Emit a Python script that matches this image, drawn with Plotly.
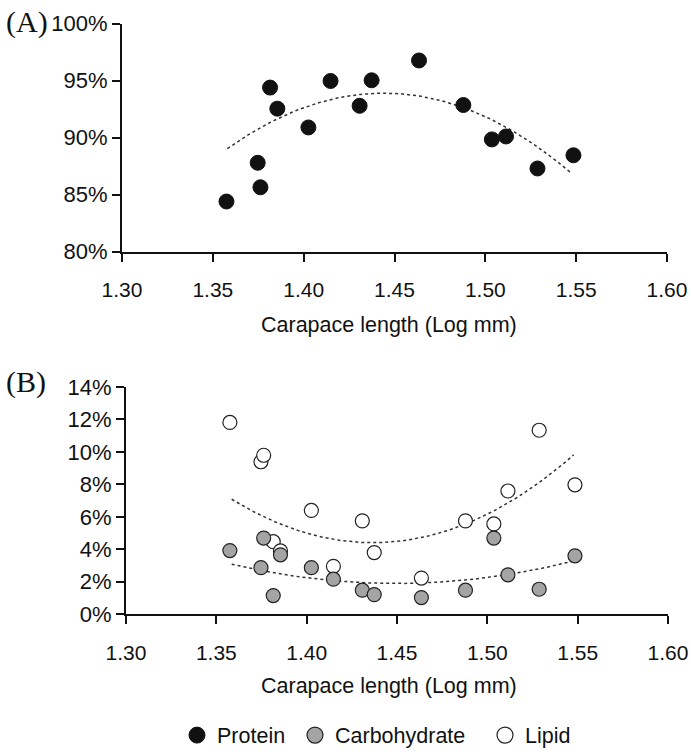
import numpy as np
import plotly.graph_objects as go

# ---- data ----
carapace_log_mm = [1.3575, 1.3747, 1.3762, 1.3815, 1.3855, 1.4026, 1.4148, 1.4308,
                   1.4374, 1.4635, 1.4879, 1.5036, 1.5114, 1.5287, 1.5485]
protein_pct = [84.4, 87.8, 85.65, 94.4, 92.55, 90.9, 94.98, 92.8,
               95.04, 96.78, 92.87, 89.85, 90.11, 87.3, 88.46]
carbohydrate_pct = [3.92, 2.87, 4.69, 1.15, 3.66, 2.87, 2.16, 1.48,
                    1.21, 1.03, 1.48, 4.69, 2.43, 1.54, 3.60]
lipid_pct = [11.81, 9.39, 9.79, 4.47, 3.90, 6.39, 2.95, 5.75,
             3.80, 2.23, 5.75, 5.56, 7.59, 11.33, 7.97]

# polynomial (order 2) trendlines, as read at start / middle / end
trend_x = [1.3580, 1.4450, 1.5475]
protein_trend = [89.04, 93.91, 86.87]
lipid_trend_x = [1.3585, 1.4398, 1.5478]
lipid_trend = [7.08, 4.41, 9.81]
carb_trend_x = [1.3585, 1.4446, 1.5478]
carb_trend = [3.08, 1.90, 3.28]

x_ticks = [1.30, 1.35, 1.40, 1.45, 1.50, 1.55, 1.60]
x_tick_labels = ["1.30", "1.35", "1.40", "1.45", "1.50", "1.55", "1.60"]
yA_ticks = [80, 85, 90, 95, 100]
yA_tick_labels = ["80%", "85%", "90%", "95%", "100%"]
yB_ticks = [0, 2, 4, 6, 8, 10, 12, 14]
yB_tick_labels = ["0%", "2%", "4%", "6%", "8%", "10%", "12%", "14%"]
x_title = "Carapace length (Log mm)"
panel_labels = ["(A)", "(B)"]
series_names = ["Protein", "Carbohydrate", "Lipid"]

W, H = 691, 756
SANS = "Liberation Sans, Arial, sans-serif"
SERIF = "Liberation Serif, Times New Roman, serif"
INK = "#111111"


def trend(px, py):
    c = np.polyfit(px, py, 2)
    xs = np.linspace(min(px), max(px), 120)
    return xs, np.polyval(c, xs)


fig = go.Figure()
dot_line = dict(color="#333333", width=1.5, dash="dot")

# Panel A
tx, ty = trend(trend_x, protein_trend)
fig.add_trace(go.Scatter(x=tx, y=ty, mode="lines", line=dot_line,
                         xaxis="x", yaxis="y", showlegend=False, hoverinfo="skip"))
fig.add_trace(go.Scatter(x=carapace_log_mm, y=protein_pct, mode="markers", name=series_names[0],
                         marker=dict(size=15, color=INK, line=dict(color=INK, width=1)),
                         xaxis="x", yaxis="y", showlegend=False))

# Panel B
tx, ty = trend(lipid_trend_x, lipid_trend)
fig.add_trace(go.Scatter(x=tx, y=ty, mode="lines", line=dot_line,
                         xaxis="x2", yaxis="y2", showlegend=False, hoverinfo="skip"))
tx, ty = trend(carb_trend_x, carb_trend)
fig.add_trace(go.Scatter(x=tx, y=ty, mode="lines", line=dot_line,
                         xaxis="x2", yaxis="y2", showlegend=False, hoverinfo="skip"))
fig.add_trace(go.Scatter(x=carapace_log_mm, y=lipid_pct, mode="markers", name=series_names[2],
                         marker=dict(size=14, color="white", line=dict(color="#222222", width=1.2)),
                         xaxis="x2", yaxis="y2", showlegend=False))
fig.add_trace(go.Scatter(x=carapace_log_mm, y=carbohydrate_pct, mode="markers", name=series_names[1],
                         marker=dict(size=14, color="#a4a4a4", line=dict(color="#222222", width=1.2)),
                         xaxis="x2", yaxis="y2", showlegend=False))

# legend entries (one small legend each, so every entry sits where the reference has it)
legend_styles = [dict(color=INK, line=dict(color=INK, width=1)),
                 dict(color="#a4a4a4", line=dict(color="#222222", width=1.2)),
                 dict(color="white", line=dict(color="#222222", width=1.2))]
legend_ids = ["legend", "legend2", "legend3"]
for nm, st, lg in zip(series_names, legend_styles, legend_ids):
    fig.add_trace(go.Scatter(x=[None], y=[None], mode="markers", name=nm, legend=lg,
                             marker=dict(size=16, **st), xaxis="x2", yaxis="y2", showlegend=True))

axis_common = dict(showline=True, linecolor=INK, linewidth=2, ticks="outside",
                   ticklen=8, tickwidth=2, tickcolor=INK, showgrid=False, zeroline=False,
                   automargin=False)
xfont = dict(family=SANS, size=21, color=INK)
yfont = dict(family=SANS, size=22, color=INK)
legend_font = dict(family=SANS, size=21.5, color=INK)
legend_common = dict(orientation="h", xanchor="left", y=1 - 742 / H, yanchor="middle",
                     font=legend_font, bgcolor="rgba(0,0,0,0)", itemsizing="trace")

fig.update_layout(
    width=W, height=H, autosize=False,
    margin=dict(l=0, r=0, t=0, b=0),
    paper_bgcolor="white", plot_bgcolor="white",
    xaxis=dict(axis_common, range=[1.30, 1.60], tickvals=x_ticks, ticktext=x_tick_labels,
               tickfont=xfont, ticklabelstandoff=10, ticklabeloverflow="allow",
               domain=[122 / W, 667 / W], anchor="y"),
    yaxis=dict(axis_common, range=[80, 100], tickvals=yA_ticks, ticktext=yA_tick_labels,
               tickfont=yfont, domain=[1 - 254 / H, 1 - 24 / H], anchor="x"),
    xaxis2=dict(axis_common, range=[1.30, 1.60], tickvals=x_ticks, ticktext=x_tick_labels,
                tickfont=xfont, ticklabelstandoff=11, ticklabeloverflow="allow",
                domain=[126 / W, 668 / W], anchor="y2"),
    yaxis2=dict(axis_common, range=[0, 14], tickvals=yB_ticks, ticktext=yB_tick_labels,
                tickfont=yfont, domain=[1 - 620 / H, 1 - 390.5 / H], anchor="x2"),
    legend=dict(legend_common, x=177 / W),
    legend2=dict(legend_common, x=295 / W),
    legend3=dict(legend_common, x=485 / W),
    showlegend=True,
    annotations=[
        dict(text=panel_labels[0], x=4 / W, y=1 - 22 / H, xref="paper", yref="paper",
             xanchor="left", yanchor="middle", showarrow=False,
             font=dict(family=SERIF, size=30, color=INK)),
        dict(text=panel_labels[1], x=4 / W, y=1 - 386 / H, xref="paper", yref="paper",
             xanchor="left", yanchor="middle", showarrow=False,
             font=dict(family=SERIF, size=30, color=INK)),
        dict(text=x_title, x=389 / W, y=1 - 328 / H, xref="paper", yref="paper",
             xanchor="center", yanchor="middle", showarrow=False,
             font=dict(family=SANS, size=21.5, color=INK)),
        dict(text=x_title, x=389 / W, y=1 - 692 / H, xref="paper", yref="paper",
             xanchor="center", yanchor="middle", showarrow=False,
             font=dict(family=SANS, size=21.5, color=INK)),
    ],
)

fig.write_html("out.html", config={"displayModeBar": False},
               post_script="document.body.style.margin='0px';document.body.style.padding='0px';")
